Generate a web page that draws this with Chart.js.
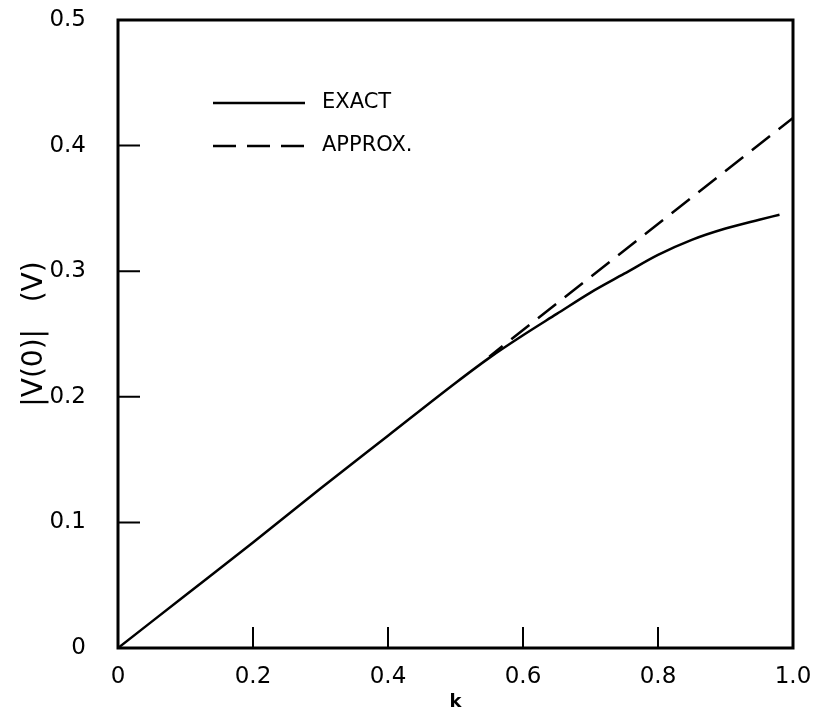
<!DOCTYPE html>
<html>
<head>
<meta charset="utf-8">
<script src="https://cdn.jsdelivr.net/npm/chart.js@4.4.1/dist/chart.umd.min.js"></script>
<style>
  html, body { margin: 0; padding: 0; background: #fff; }
  #wrap { width: 817px; height: 719px; }
</style>
</head>
<body>
<div id="wrap"><canvas id="chart"></canvas></div>
<script>
// k values and |V(0)|
const exactK = [0, 0.1, 0.2, 0.3, 0.4, 0.5, 0.55, 0.6, 0.65, 0.7, 0.75, 0.8, 0.85, 0.9, 0.95, 0.98];
const exactV = [0, 0.042, 0.084, 0.127, 0.169, 0.211, 0.231, 0.249, 0.266, 0.283, 0.298, 0.313, 0.325, 0.334, 0.341, 0.345];
const approxK = [0.55, 1.0];
const approxV = [0.232, 0.422];
const yTicks = [0, 0.1, 0.2, 0.3, 0.4, 0.5];
const xTicks = [0, 0.2, 0.4, 0.6, 0.8, 1.0];

const font = "'DejaVu Sans', sans-serif";

function toPoints(xs, ys) {
  return xs.map((x, i) => ({ x: x, y: ys[i] }));
}

// box + inward tick marks + legend drawn inside the plot
const framePlugin = {
  id: 'frame',
  afterDraw(chart) {
    const ctx = chart.ctx;
    const a = chart.chartArea;
    const xs = chart.scales.x, ys = chart.scales.y;
    ctx.save();
    ctx.strokeStyle = '#000';
    ctx.lineWidth = 3;
    ctx.strokeRect(a.left, a.top, a.right - a.left, a.bottom - a.top);

    ctx.lineWidth = 2;
    ctx.beginPath();
    yTicks.slice(1, -1).forEach(v => {
      const py = ys.getPixelForValue(v);
      ctx.moveTo(a.left, py);
      ctx.lineTo(a.left + 22, py);
    });
    xTicks.slice(1, -1).forEach(v => {
      const px = xs.getPixelForValue(v);
      ctx.moveTo(px, a.bottom);
      ctx.lineTo(px, a.bottom - 21);
    });
    ctx.stroke();

    // legend
    const lx0 = a.left + 95, lx1 = a.left + 187;
    const rows = [{ y: a.top + 83 }, { y: a.top + 126 }];
    ctx.font = '21px ' + font;
    ctx.fillStyle = '#000';
    ctx.textBaseline = 'middle';
    chart.data.datasets.forEach((ds, i) => {
      const r = rows[i];
      ctx.beginPath();
      ctx.lineWidth = 2.5;
      ctx.setLineDash(ds.borderDash || []);
      ctx.moveTo(lx0, r.y);
      ctx.lineTo(lx1, r.y);
      ctx.stroke();
      ctx.setLineDash([]);
      ctx.fillText(ds.label, lx1 + 17, r.y);
    });
    ctx.restore();
  }
};

const config = {
  type: 'line',
  data: {
    datasets: [
      {
        label: 'EXACT',
        data: toPoints(exactK, exactV),
        borderColor: '#000',
        borderWidth: 2.5,
        pointRadius: 0,
        tension: 0.4,
        cubicInterpolationMode: 'monotone'
      },
      {
        label: 'APPROX.',
        data: toPoints(approxK, approxV),
        borderColor: '#000',
        borderWidth: 2.5,
        borderDash: [23, 11],
        borderDashOffset: 6,
        pointRadius: 0
      }
    ]
  },
  options: {
    responsive: true,
    maintainAspectRatio: false,
    animation: false,
    layout: { padding: { top: 20, right: 24, left: 0, bottom: 0 } },
    plugins: { legend: { display: false }, tooltip: { enabled: false } },
    scales: {
      x: {
        type: 'linear',
        min: 0, max: 1,
        grid: { display: false },
        border: { display: false },
        afterBuildTicks: s => { s.ticks = xTicks.map(v => ({ value: v })); },
        afterFit: s => { s.height = 71; s.paddingLeft = 0; s.paddingRight = 0; },
        ticks: {
          color: '#000',
          padding: 7,
          font: { family: font, size: 23 },
          callback: v => (v === 0 ? '0' : v.toFixed(1))
        },
        title: {
          display: true,
          text: 'k',
          color: '#000',
          font: { family: font, size: 18, weight: 'bold' },
          padding: { top: 2, bottom: 6 }
        }
      },
      y: {
        type: 'linear',
        min: 0, max: 0.5,
        grid: { display: false },
        border: { display: false },
        afterBuildTicks: s => { s.ticks = yTicks.map(v => ({ value: v })); },
        afterFit: s => { s.width = 118; s.paddingTop = 0; s.paddingBottom = 0; },
        ticks: {
          color: '#000',
          padding: 24,
          font: { family: font, size: 23 },
          callback: v => (v === 0 ? '0' : v.toFixed(1))
        },
        title: {
          display: true,
          text: '|V(0)|   (V)',
          color: '#000',
          font: { family: font, size: 28 },
          padding: { top: 18, bottom: 0 }
        }
      }
    }
  },
  plugins: [framePlugin]
};

const canvas = document.getElementById('chart');
new Chart(canvas, config);
</script>
</body>
</html>
